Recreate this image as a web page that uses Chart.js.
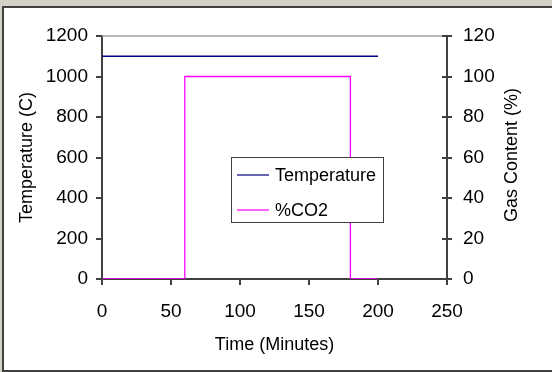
<!DOCTYPE html>
<html><head><meta charset="utf-8">
<script src="https://cdn.jsdelivr.net/npm/chart.js@4.4.0/dist/chart.umd.min.js"></script>
<style>
html,body{margin:0;padding:0;background:#d4d0c8;width:552px;height:372px;overflow:hidden;}
#frame{position:absolute;left:2px;top:6px;width:550px;height:366px;background:#fff;border-left:2px solid #404040;border-top:2px solid #404040;border-bottom:2px solid #404040;box-sizing:border-box;}
#wrap{position:absolute;left:0;top:0;width:552px;height:372px;}
</style></head>
<body>
<div id="frame"></div>
<div id="wrap"><canvas id="c" width="552" height="372"></canvas></div>
<script>
// ---- data ----
const tempTimes = [0, 200];
const tempValues = [1100, 1100];
const co2Times = [0, 60, 60, 180, 180, 200];
const co2Values = [0, 0, 100, 100, 0, 0];
const timeTicks = [0, 50, 100, 150, 200, 250];
const tempTicks = [0, 200, 400, 600, 800, 1000, 1200];
const gasTicks = [0, 20, 40, 60, 80, 100, 120];
const seriesNames = ['Temperature', '%CO2'];
const xTitle = 'Time (Minutes)';
const yTitle = 'Temperature (C)';
const y2Title = 'Gas Content (%)';

const FONT = "'Liberation Sans', Arial, sans-serif";
Chart.defaults.font.family = FONT;
Chart.defaults.color = '#000';

const axisCol = '#404040';
const tickFont = {size: 19, family: FONT};
const titleFont = {size: 18, family: FONT};
const plain = v => String(v);

const decor = {
  id: 'decor',
  beforeDatasetsDraw(chart) {
    const {ctx, chartArea: a} = chart;
    ctx.save();
    ctx.strokeStyle = '#a0a0a0';
    ctx.lineWidth = 1.5;
    ctx.beginPath(); ctx.moveTo(a.left, a.top); ctx.lineTo(a.right, a.top); ctx.stroke();
    const s = chart.scales.y2;
    ctx.strokeStyle = axisCol; ctx.lineWidth = 2;
    s.ticks.forEach(t => {
      const py = Math.round(s.getPixelForValue(t.value));
      ctx.beginPath(); ctx.moveTo(a.right - 5, py); ctx.lineTo(a.right, py); ctx.stroke();
    });
    ctx.restore();
  },
  afterDraw(chart) {
    const {ctx} = chart;
    ctx.save();
    // legend
    const bx = 231.5, by = 157.5, bw = 152, bh = 65;
    ctx.fillStyle = '#fff'; ctx.fillRect(bx, by, bw, bh);
    ctx.strokeStyle = '#404040'; ctx.lineWidth = 1; ctx.strokeRect(bx, by, bw, bh);
    const rows = [175, 210];
    chart.data.datasets.forEach((ds, i) => {
      ctx.strokeStyle = ds.borderColor; ctx.lineWidth = 1.2;
      ctx.beginPath(); ctx.moveTo(237, rows[i]); ctx.lineTo(269, rows[i]); ctx.stroke();
      ctx.fillStyle = '#000'; ctx.font = '18px ' + FONT;
      ctx.textAlign = 'left'; ctx.textBaseline = 'middle';
      ctx.fillText(ds.label, 275, rows[i] + 1);
    });
    // right axis title (reads bottom-to-top)
    ctx.translate(512, 155); ctx.rotate(-Math.PI / 2);
    ctx.font = '18px ' + FONT; ctx.textAlign = 'center'; ctx.textBaseline = 'middle'; ctx.fillStyle = '#000';
    ctx.fillText(y2Title, 0, 0);
    ctx.restore();
  }
};

new Chart(document.getElementById('c'), {
  type: 'line',
  data: {
    datasets: [
      {label: seriesNames[0], data: tempTimes.map((t, i) => ({x: t, y: tempValues[i]})),
       borderColor: '#000080', borderWidth: 1.3, pointRadius: 0, tension: 0, yAxisID: 'y'},
      {label: seriesNames[1], data: co2Times.map((t, i) => ({x: t, y: co2Values[i]})),
       borderColor: '#ff00ff', borderWidth: 1.3, pointRadius: 0, tension: 0, yAxisID: 'y2'}
    ]
  },
  options: {
    responsive: false, animation: false, devicePixelRatio: 1,
    layout: {padding: {top: 36, left: 0, right: 0, bottom: 0}},
    plugins: {legend: {display: false}, tooltip: {enabled: false}},
    scales: {
      x: {
        type: 'linear', position: 'bottom', min: 0, max: 250,
        afterBuildTicks: s => { s.ticks = timeTicks.map(v => ({value: v})); },
        afterFit: s => { s.height = 93; },
        border: {color: axisCol, width: 2},
        grid: {drawOnChartArea: false, drawTicks: true, tickLength: 6, color: axisCol, lineWidth: 2},
        ticks: {font: tickFont, color: '#000', padding: 15, maxRotation: 0, callback: plain},
        title: {display: true, text: xTitle, font: titleFont, color: '#000', padding: {top: 0, bottom: 16}}
      },
      y: {
        type: 'linear', position: 'left', min: 0, max: 1200,
        afterBuildTicks: s => { s.ticks = tempTicks.map(v => ({value: v})); },
        afterFit: s => { s.width = 102; },
        border: {color: axisCol, width: 2},
        grid: {drawOnChartArea: false, drawTicks: true, tickLength: 6, color: axisCol, lineWidth: 2},
        ticks: {font: tickFont, color: '#000', padding: 8, callback: plain},
        title: {display: true, text: yTitle, font: titleFont, color: '#000', padding: {top: 16, bottom: 0}}
      },
      y2: {
        type: 'linear', position: 'right', min: 0, max: 120,
        afterBuildTicks: s => { s.ticks = gasTicks.map(v => ({value: v})); },
        afterFit: s => { s.width = 105; },
        border: {color: axisCol, width: 2},
        grid: {drawOnChartArea: false, drawTicks: true, tickLength: 5, color: axisCol, lineWidth: 2},
        ticks: {font: tickFont, color: '#000', padding: 11, callback: plain},
        title: {display: false}
      }
    }
  },
  plugins: [decor]
});
</script>
</body></html>
